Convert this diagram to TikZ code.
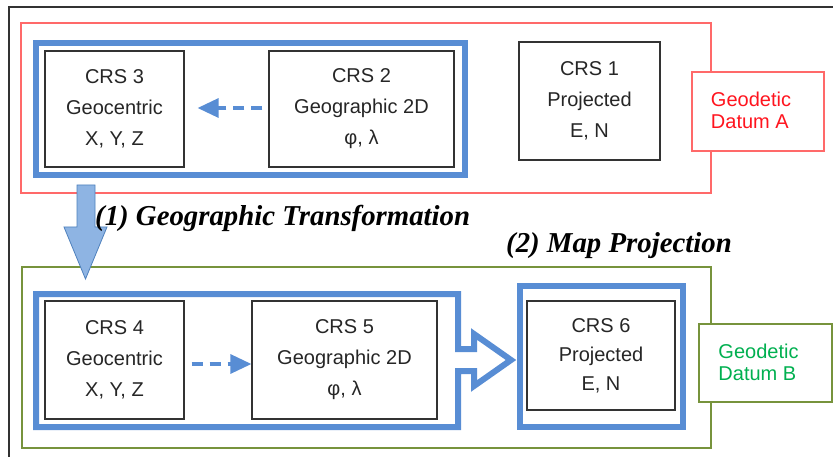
\documentclass[tikz,border=0pt]{standalone}
\usepackage{fontspec}
\setmainfont{Liberation Serif}
\newfontfamily\lsans{Liberation Sans}
\usetikzlibrary{arrows.meta}
\definecolor{bl}{RGB}{88,141,212}
\definecolor{redl}{RGB}{255,105,105}
\definecolor{redt}{RGB}{255,20,30}
\definecolor{grn}{RGB}{119,147,60}
\definecolor{grnt}{RGB}{0,176,80}
\definecolor{arrf}{RGB}{142,180,227}
\definecolor{arrd}{RGB}{79,129,189}
\definecolor{frame}{RGB}{50,50,50}
\begin{document}
\begin{tikzpicture}[x=1pt,y=-1pt,
  crs/.style={draw=black!80, line width=1.2pt, fill=white, inner sep=0pt,
    font=\lsans\fontsize{20}{31}\selectfont, align=center, text=black!85},
  bluecont/.style={draw=bl, line width=6pt, line join=miter},
  datum/.style={fill=white, line width=2.2pt, inner sep=0pt},
  datumtxt/.style={font=\lsans\fontsize{20}{22}\selectfont, align=left, inner sep=0pt},
  dasharrow/.style={draw=bl, line width=3.2pt, dash pattern=on 11pt off 7pt,
    -{Triangle[length=21pt,width=19pt]}},
  title/.style={font=\fontsize{28.8}{30}\selectfont\bfseries\itshape, inner sep=0pt, anchor=base west},
  bigarrow/.style={fill=arrf, draw=arrd, line width=0.8pt}
]
\useasboundingbox (0,0) rectangle (833,457);
\fill[white] (0,0) rectangle (833,457);
% outer frame
\draw[frame, line width=1.5pt] (9,460) -- (9,7) -- (836,7);

% Datum A
\draw[redl, line width=2.2pt] (21,23) rectangle (711,193);
\draw[bluecont] (36,43) rectangle (465,175);
\node[crs, minimum width=139pt, minimum height=116pt] (c3) at (114.5,109) {CRS 3\\Geocentric\\X, Y, Z};
\node[crs, minimum width=185pt, minimum height=116pt] (c2) at (361.5,109) {CRS 2\\Geographic 2D\\φ, λ};
\node[crs, minimum width=141pt, minimum height=118pt] (c1) at (589.5,101) {CRS 1\\Projected\\E, N};
\node[datum, draw=redl, minimum width=132pt, minimum height=79pt] (dA) at (758,111.5) {};
\node[datumtxt, text=redt] (tA) at ([xshift=-7pt,yshift=1pt]dA.center) {Geodetic\\Datum A};
\draw[dasharrow] ([xshift=-6pt,yshift=1pt]c2.west) -- ([xshift=13pt,yshift=1pt]c3.east);

% Datum B
\draw[grn, line width=2.5pt] (22,267) rectangle (711,448);
\draw[bluecont] (36,294) -- (458,294) -- (458,349) -- (474,349) -- (474,334)
  -- (511,360) -- (474,386) -- (474,371) -- (458,371) -- (458,427) -- (36,427) -- cycle;
\draw[bluecont] (520,286) rectangle (683,427);
\node[crs, minimum width=139pt, minimum height=118pt] (c4) at (114.5,360) {CRS 4\\Geocentric\\X, Y, Z};
\node[crs, minimum width=185pt, minimum height=118pt] (c5) at (344.5,360) {CRS 5\\Geographic 2D\\φ, λ};
\node[crs, minimum width=148pt, minimum height=109pt, font=\lsans\fontsize{20}{29}\selectfont] (c6) at (601,355.5) {CRS 6\\Projected\\E, N};
\node[datum, draw=grn, line width=2.5pt, minimum width=133pt, minimum height=78pt] (dB) at (765.5,363) {};
\node[datumtxt, text=grnt] (tB) at ([xshift=-7pt,yshift=1pt]dB.center) {Geodetic\\Datum B};
\draw[dasharrow] ([xshift=7pt,yshift=-4pt]c4.east) -- ([yshift=-4pt]c5.west);

% big down arrow
\draw[bigarrow] (77,185) -- (95,185) -- (95,227) -- (107,227) -- (85.5,279) -- (64,227) -- (77,227) -- cycle;

% titles
\node[title] (t1) at (95,226) {(1) Geographic Transformation};
\node[title] (t2) at (506,253) {(2) Map Projection};
\end{tikzpicture}
\end{document}
